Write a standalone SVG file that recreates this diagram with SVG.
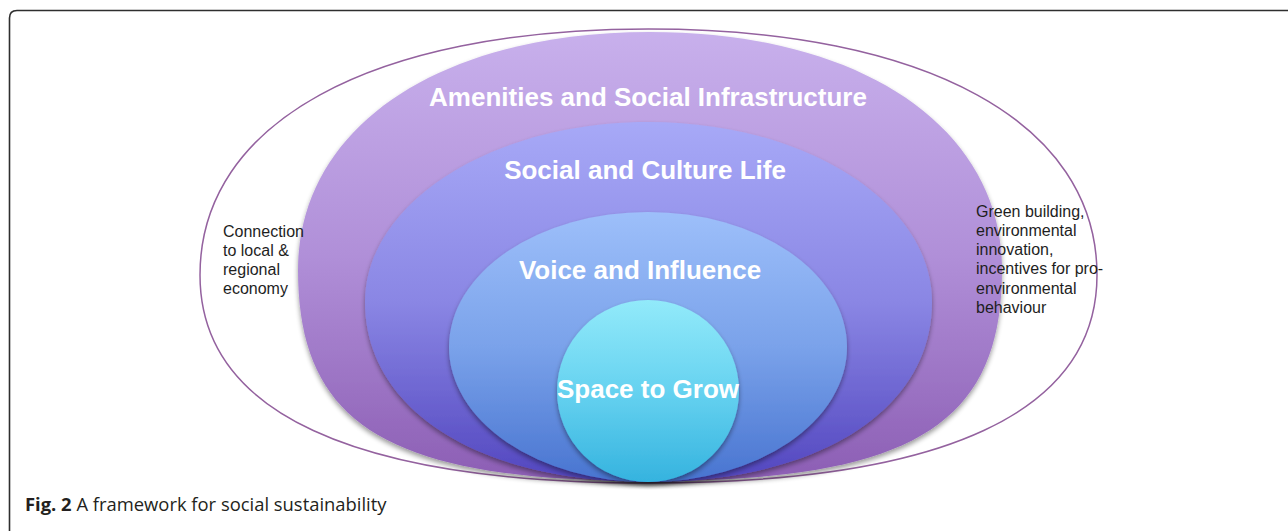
<svg xmlns="http://www.w3.org/2000/svg" width="1288" height="531" viewBox="0 0 1288 531">
  <style>
    .frame { fill: none; stroke: #2e2e2e; stroke-width: 1.6; }
    .outline { fill: none; stroke: #94629f; stroke-width: 1.5; }
    .label { font-family: "Liberation Sans", Arial, sans-serif; font-weight: bold; font-size: 26px; fill: #ffffff; text-anchor: middle; }
    .side { font-family: "Liberation Sans", Arial, sans-serif; font-size: 16px; fill: #1e1e1e; }
    .caption { font-family: "Open Sans", "Noto Sans", sans-serif; font-size: 18.4px; fill: #231f20; }
    .caption .bold { font-weight: bold; }
  </style>
  <defs>
    <linearGradient id="gAmenities" x1="0" y1="0" x2="0" y2="1">
      <stop offset="0" stop-color="#c8b0ec"/>
      <stop offset="0.5" stop-color="#b08fd8"/>
      <stop offset="1" stop-color="#8c5eb4"/>
    </linearGradient>
    <linearGradient id="gSocial" x1="0" y1="0" x2="0" y2="1">
      <stop offset="0" stop-color="#a7a9f7"/>
      <stop offset="0.5" stop-color="#8a86e4"/>
      <stop offset="1" stop-color="#5246bf"/>
    </linearGradient>
    <linearGradient id="gVoice" x1="0" y1="0" x2="0" y2="1">
      <stop offset="0" stop-color="#9dbffa"/>
      <stop offset="0.5" stop-color="#7aa2ea"/>
      <stop offset="1" stop-color="#4874d0"/>
    </linearGradient>
    <linearGradient id="gSpace" x1="0" y1="0" x2="0" y2="1">
      <stop offset="0" stop-color="#92eafa"/>
      <stop offset="0.5" stop-color="#66d2f0"/>
      <stop offset="1" stop-color="#35b3df"/>
    </linearGradient>
    <filter id="softShadow" x="-10%" y="-10%" width="120%" height="125%">
      <feGaussianBlur in="SourceAlpha" stdDeviation="2.5"/>
      <feOffset dx="0" dy="3" result="off"/>
      <feComponentTransfer>
        <feFuncA type="linear" slope="0.4"/>
      </feComponentTransfer>
      <feMerge>
        <feMergeNode/>
        <feMergeNode in="SourceGraphic"/>
      </feMerge>
    </filter>
  </defs>

  <!-- figure frame -->
  <path class="frame" d="M9.5,531 L9.5,18 Q9.5,10.5 17,10.5 L1288,10.5"/>

  <!-- outer boundary: environment / economy -->
  <g id="outer-ring">
    <path class="outline" d="M200,275 C200,122.5 370.5,29 648.5,29 C926.5,29 1097,122.5 1097,275 C1097,412.3 944.5,483 648.5,483 C352.5,483 200,412.3 200,275 Z"/>
  </g>

  <g id="amenities">
    <path fill="url(#gAmenities)" filter="url(#softShadow)" d="M298,270 C298,127.2 438.8,32 650,32 C861.2,32 1002,127.2 1002,270 C1002,426.1 910.5,481 650,481 C389.5,481 298,426.1 298,270 Z"/>
    <text class="label" x="648" y="106">Amenities and Social Infrastructure</text>
  </g>

  <g id="social-culture">
    <path fill="url(#gSocial)" filter="url(#softShadow)" d="M365,302 C365,202.6 491.9,122 648.5,122 C805.1,122 932,202.6 932,302 C932,410 818.6,482 648.5,482 C478.4,482 365,410 365,302 Z"/>
    <text class="label" x="645" y="179">Social and Culture Life</text>
  </g>

  <g id="voice-influence">
    <ellipse cx="648" cy="347" rx="199" ry="135" fill="url(#gVoice)" filter="url(#softShadow)"/>
    <text class="label" x="640" y="279">Voice and Influence</text>
  </g>

  <g id="space-to-grow">
    <circle cx="648" cy="391" r="91" fill="url(#gSpace)" filter="url(#softShadow)"/>
    <text class="label" x="648" y="398">Space to Grow</text>
  </g>

  <g id="note-economy">
    <text class="side" x="223" y="237">Connection</text>
    <text class="side" x="223" y="256">to local &amp;</text>
    <text class="side" x="223" y="275">regional</text>
    <text class="side" x="223" y="294">economy</text>
  </g>

  <g id="note-environment">
    <text class="side" x="976" y="217">Green building,</text>
    <text class="side" x="976" y="236">environmental</text>
    <text class="side" x="976" y="255">innovation,</text>
    <text class="side" x="976" y="274">incentives for pro-</text>
    <text class="side" x="976" y="294">environmental</text>
    <text class="side" x="976" y="313">behaviour</text>
  </g>

  <text class="caption" x="25" y="511"><tspan class="bold">Fig. 2</tspan> A framework for social sustainability</text>
</svg>
